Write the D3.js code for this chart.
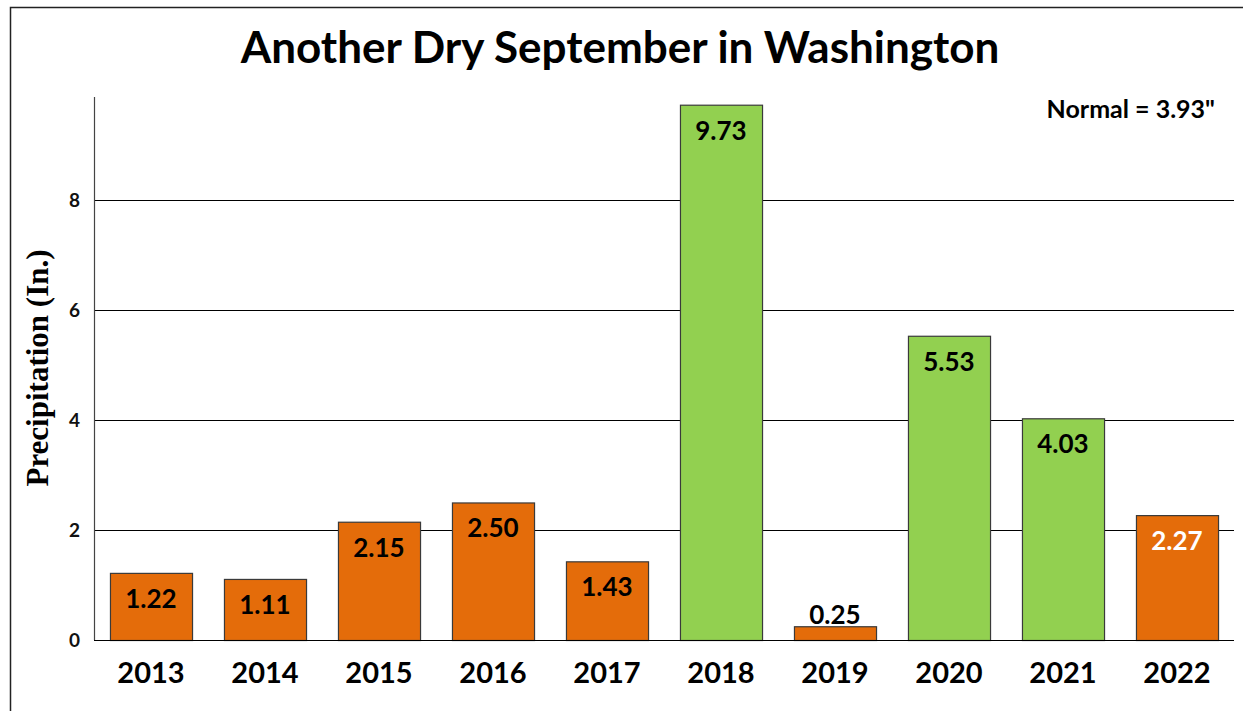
<!DOCTYPE html>
<html>
<meta charset="utf-8">
<head>
  <title>Another Dry September in Washington</title>
</head>

<style>
body { margin: 0; background: white; }
text {
  font-family: Lato, "Open Sans", sans-serif;
  font-weight: bold;
}
.ytitle { font-family: "Liberation Serif", "DejaVu Serif", serif; }
</style>

<body>
  <div id="chart"></div>

  <script src="https://d3js.org/d3.v7.min.js"></script>
  <script>

var years = ['2013', '2014', '2015', '2016', '2017', '2018', '2019', '2020', '2021', '2022'];
var precip = [1.22, 1.11, 2.15, 2.50, 1.43, 9.73, 0.25, 5.53, 4.03, 2.27];
var wetYear = [false, false, false, false, false, true, false, true, true, false];
var yTicks = [0, 2, 4, 6, 8];
var normal = 3.93;

var width = 1243, height = 711;
var plot = {left: 94, right: 1234, top: 97, bottom: 640};

const svg = d3.select('#chart')
  .append('svg')
  .attr('width', width)
  .attr('height', height);

// outer frame (runs off the right and bottom edge like the source)
svg.append('rect')
  .attr('x', 10.5).attr('y', 7.5)
  .attr('width', 1300).attr('height', 800)
  .attr('fill', 'none')
  .attr('stroke', '#222')
  .attr('stroke-width', 1.5);

var x = d3.scaleBand()
  .domain(years)
  .range([plot.left, plot.right])
  .paddingInner(0.28)
  .paddingOuter(0.14);

var y = d3.scaleLinear()
  .domain([0, 9.87])
  .range([plot.bottom, plot.top]);

// gridlines
svg.append('g')
  .selectAll('line')
  .data(yTicks.filter(function(d) { return d > 0; }))
  .join('line')
  .attr('x1', plot.left).attr('x2', plot.right)
  .attr('y1', function(d) { return Math.round(y(d)) + 0.5; })
  .attr('y2', function(d) { return Math.round(y(d)) + 0.5; })
  .attr('stroke', '#000')
  .attr('stroke-width', 1);

// y tick labels
svg.append('g')
  .selectAll('text')
  .data(yTicks)
  .join('text')
  .attr('x', 80)
  .attr('y', function(d) { return y(d); })
  .attr('dy', '0.36em')
  .attr('text-anchor', 'end')
  .attr('font-size', 19)
  .attr('fill', '#111')
  .text(function(d) { return d; });

// bars
var barData = years.map(function(yr, i) {
  return {year: yr, value: precip[i], wet: wetYear[i]};
});

svg.append('g')
  .selectAll('rect')
  .data(barData)
  .join('rect')
  .attr('x', function(d) { return x(d.year) + 0.5; })
  .attr('y', function(d) { return y(d.value) + 0.5; })
  .attr('width', x.bandwidth())
  .attr('height', function(d) { return y(0) - y(d.value); })
  .attr('fill', function(d) { return d.wet ? '#92D050' : '#E46C0A'; })
  .attr('stroke', '#3a3a3a')
  .attr('stroke-width', 1.2);

// value labels
svg.append('g')
  .selectAll('text')
  .data(barData)
  .join('text')
  .attr('x', function(d) { return x(d.year) + x.bandwidth() / 2; })
  .attr('y', function(d) {
    var top = y(d.value);
    if (y(0) - top < 40) return top - 2;
    return top + 35;
  })
  .attr('text-anchor', 'middle')
  .attr('font-size', 26)
  .attr('fill', function(d) { return d.year === '2022' ? '#fff' : '#000'; })
  .text(function(d) { return d.value.toFixed(2); });

// axes lines
svg.append('line')
  .attr('x1', plot.left + 0.5).attr('x2', plot.left + 0.5)
  .attr('y1', plot.top).attr('y2', plot.bottom)
  .attr('stroke', '#444').attr('stroke-width', 1.2);
svg.append('line')
  .attr('x1', plot.left).attr('x2', plot.right)
  .attr('y1', plot.bottom + 0.5).attr('y2', plot.bottom + 0.5)
  .attr('stroke', '#000').attr('stroke-width', 1.2);

// x labels
svg.append('g')
  .selectAll('text')
  .data(years)
  .join('text')
  .attr('x', function(d) { return x(d) + x.bandwidth() / 2; })
  .attr('y', 683)
  .attr('text-anchor', 'middle')
  .attr('font-size', 29)
  .attr('fill', '#000')
  .text(function(d) { return d; });

// title
svg.append('text')
  .attr('x', 620)
  .attr('y', 63)
  .attr('text-anchor', 'middle')
  .attr('font-size', 44)
  .attr('fill', '#000')
  .text('Another Dry September in Washington');

// normal note
svg.append('text')
  .attr('x', 1215)
  .attr('y', 118)
  .attr('text-anchor', 'end')
  .attr('font-size', 25)
  .attr('fill', '#000')
  .text('Normal = ' + normal.toFixed(2) + '"');

// y axis title
svg.append('text')
  .attr('class', 'ytitle')
  .attr('transform', 'translate(48, 368) rotate(-90)')
  .attr('text-anchor', 'middle')
  .attr('font-size', 31)
  .attr('fill', '#000')
  .text('Precipitation (In.)');

  </script>
</body>
</html>
